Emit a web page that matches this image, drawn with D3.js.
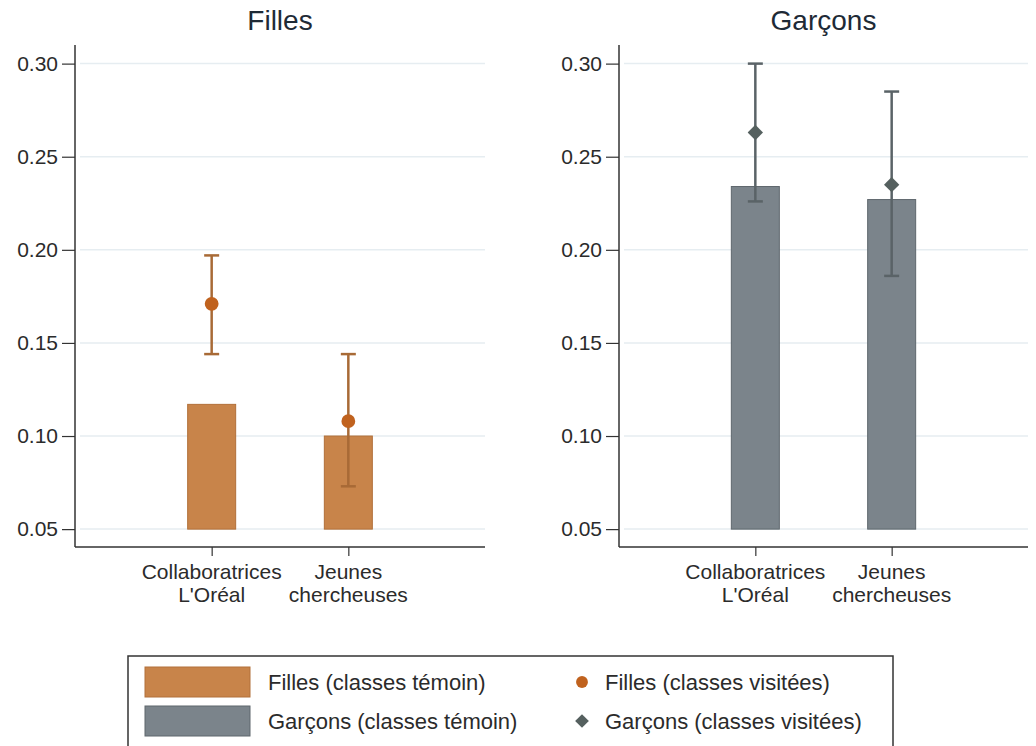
<!DOCTYPE html>
<html>
<head>
<meta charset="utf-8">
<script src="https://cdn.jsdelivr.net/npm/d3@7"></script>
<style>
  body { margin: 0; background: #fff; }
  text { font-family: "Liberation Sans", Arial, sans-serif; }
</style>
</head>
<body>
<div id="chart"></div>
<script>
// data
var categories = ["Collaboratrices|L'Oréal", "Jeunes|chercheuses"];
var yTicks = [0.05, 0.10, 0.15, 0.20, 0.25, 0.30];

var fillesTemoin   = [0.117, 0.100];
var fillesVisitees = [0.171, 0.108];
var fillesLow      = [0.144, 0.073];
var fillesHigh     = [0.197, 0.144];

var garconsTemoin   = [0.234, 0.227];
var garconsVisitees = [0.263, 0.235];
var garconsLow      = [0.226, 0.186];
var garconsHigh     = [0.300, 0.285];

var W = 1036, H = 746;

var svg = d3.select("#chart")
  .append("svg")
    .attr("width", W)
    .attr("height", H);

var orange = {bar: "#c8844a", barStroke: "#b2703a", point: "#c0621e", err: "#a86a36"};
var gray   = {bar: "#7b848b", barStroke: "#5f676d", point: "#55605f", err: "#5a6367"};

var panelTop = 45, panelBottom = 547;

function drawPanel(left, right, title, bars, pts, low, high, col, shape) {
  var g = svg.append("g");

  var x = d3.scalePoint()
    .domain(categories)
    .range([left, right])
    .padding(1);

  var y = d3.scaleLinear()
    .domain([0.0404, 0.310])
    .range([panelBottom, panelTop]);

  // grid lines
  g.selectAll(".grid")
    .data(yTicks)
    .enter().append("line")
      .attr("x1", left + 5)
      .attr("x2", right)
      .attr("y1", function (d) { return y(d); })
      .attr("y2", function (d) { return y(d); })
      .attr("stroke", "#e6edf1")
      .attr("stroke-width", 1.5);

  // y axis
  var yAxis = d3.axisLeft(y)
    .tickValues(yTicks)
    .tickFormat(d3.format(".2f"))
    .tickSize(13)
    .tickPadding(4);

  var gy = g.append("g")
    .attr("transform", "translate(" + left + ",0)")
    .call(yAxis);
  gy.select(".domain").attr("stroke", "#333").attr("stroke-width", 1.5).attr("d", "M0," + panelTop + "V" + panelBottom);
  gy.selectAll(".tick line").attr("stroke", "#333").attr("stroke-width", 1.2);
  gy.selectAll(".tick text").attr("fill", "#2b2b2b").style("font-size", "21px");

  // x axis
  var xAxis = d3.axisBottom(x)
    .tickSize(9)
    .tickFormat("");
  var gx = g.append("g")
    .attr("transform", "translate(0," + panelBottom + ")")
    .call(xAxis);
  gx.select(".domain").attr("stroke", "#333").attr("stroke-width", 1.5).attr("d", "M" + left + ",0H" + right);
  gx.selectAll(".tick line").attr("stroke", "#333").attr("stroke-width", 1.2);

  // two-line category labels, one text per line
  categories.forEach(function (c) {
    c.split("|").forEach(function (l, i) {
      g.append("text")
        .attr("x", x(c))
        .attr("y", panelBottom + 32 + i * 23)
        .attr("text-anchor", "middle")
        .attr("fill", "#2b2b2b")
        .style("font-size", "21px")
        .text(l);
    });
  });

  // title
  g.append("text")
    .attr("x", (left + right) / 2)
    .attr("y", 30)
    .attr("text-anchor", "middle")
    .attr("fill", "#1e2a36")
    .style("font-size", "28px")
    .text(title);

  // bars (classes témoin), base at 0.05
  var bw = 48;
  g.selectAll(".bar")
    .data(bars)
    .enter().append("rect")
      .attr("x", function (d, i) { return x(categories[i]) - bw / 2; })
      .attr("y", function (d) { return y(d); })
      .attr("width", bw)
      .attr("height", function (d) { return y(0.05) - y(d); })
      .attr("fill", col.bar)
      .attr("stroke", col.barStroke)
      .attr("stroke-width", 1);

  // error bars
  var cap = 7.5;
  pts.forEach(function (p, i) {
    var cx = x(categories[i]);
    g.append("line")
      .attr("x1", cx).attr("x2", cx)
      .attr("y1", y(low[i])).attr("y2", y(high[i]))
      .attr("stroke", col.err).attr("stroke-width", 2.5);
    [low[i], high[i]].forEach(function (v) {
      g.append("line")
        .attr("x1", cx - cap).attr("x2", cx + cap)
        .attr("y1", y(v)).attr("y2", y(v))
        .attr("stroke", col.err).attr("stroke-width", 2.5);
    });
  });

  // points (classes visitées)
  var sym = shape === "circle" ? d3.symbolCircle : d3.symbolDiamond2;
  g.selectAll(".pt")
    .data(pts)
    .enter().append("path")
      .attr("transform", function (d, i) { return "translate(" + x(categories[i]) + "," + y(d) + ")"; })
      .attr("d", d3.symbol().type(sym).size(150))
      .attr("fill", col.point);
}

drawPanel(75, 485, "Filles", fillesTemoin, fillesVisitees, fillesLow, fillesHigh, orange, "circle");
drawPanel(619, 1028, "Garçons", garconsTemoin, garconsVisitees, garconsLow, garconsHigh, gray, "diamond");

// legend
var legend = svg.append("g");
legend.append("rect")
  .attr("x", 128).attr("y", 656)
  .attr("width", 765).attr("height", 100)
  .attr("fill", "#fff")
  .attr("stroke", "#333")
  .attr("stroke-width", 1.5);

var legendItems = [
  {label: "Filles (classes témoin)", type: "bar", col: orange, x: 145, y: 682},
  {label: "Garçons (classes témoin)", type: "bar", col: gray, x: 145, y: 721},
  {label: "Filles (classes visitées)", type: "circle", col: orange, x: 582, y: 682},
  {label: "Garçons (classes visitées)", type: "diamond", col: gray, x: 582, y: 721}
];

legendItems.forEach(function (d) {
  if (d.type === "bar") {
    legend.append("rect")
      .attr("x", d.x).attr("y", d.y - 15)
      .attr("width", 105).attr("height", 30)
      .attr("fill", d.col.bar)
      .attr("stroke", d.col.barStroke)
      .attr("stroke-width", 1);
    legend.append("text")
      .attr("x", d.x + 123).attr("y", d.y + 8)
      .attr("fill", "#2b2b2b")
      .style("font-size", "22px")
      .text(d.label);
  } else {
    legend.append("path")
      .attr("transform", "translate(" + d.x + "," + d.y + ")")
      .attr("d", d3.symbol().type(d.type === "circle" ? d3.symbolCircle : d3.symbolDiamond2).size(d.type === "circle" ? 110 : 120))
      .attr("fill", d.col.point);
    legend.append("text")
      .attr("x", d.x + 23).attr("y", d.y + 8)
      .attr("fill", "#2b2b2b")
      .style("font-size", "22px")
      .text(d.label);
  }
});
</script>
</body>
</html>
